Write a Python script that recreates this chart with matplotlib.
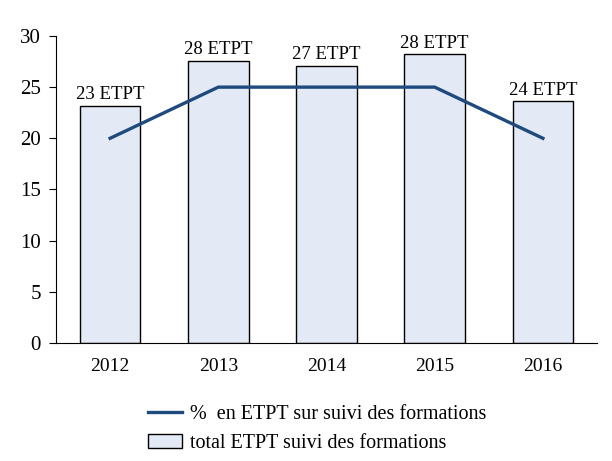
import matplotlib
matplotlib.use("Agg")
import matplotlib.pyplot as plt
from matplotlib.lines import Line2D
from matplotlib.patches import Patch

years = ["2012", "2013", "2014", "2015", "2016"]
total_etpt = [23.2, 27.6, 27.1, 28.2, 23.6]
bar_labels = ["23 ETPT", "28 ETPT", "27 ETPT", "28 ETPT", "24 ETPT"]
pct_etpt = [20, 25, 25, 25, 20]

plt.rcParams['font.family'] = ['Liberation Serif', 'DejaVu Serif']

fig = plt.figure(figsize=(6.12, 4.61), dpi=100)
ax = fig.add_axes([0.0915, 0.256, 0.884, 0.666])

x = range(len(years))
ax.bar(x, total_etpt, width=0.56, color="#E4EAF5", edgecolor="black", linewidth=1.0, zorder=2)
for i, (v, lab) in enumerate(zip(total_etpt, bar_labels)):
    ax.text(i, v + 0.25, lab, ha="center", va="bottom", fontsize=13.5)
ax.plot(x, pct_etpt, color="#1F4A7E", linewidth=2.4, zorder=3)

ax.set_xlim(-0.5, 4.5)
ax.set_ylim(0, 30)
ax.set_yticks(range(0, 31, 5))
ax.set_xticks(list(x))
ax.set_xticklabels(years)
ax.tick_params(axis="y", direction="out", length=5, labelsize=15, pad=6)
ax.tick_params(axis="x", length=0, labelsize=14, pad=11)
ax.spines["top"].set_visible(False)
ax.spines["right"].set_visible(False)

handles = [Line2D([0], [0], color="#1F4A7E", linewidth=2.4),
           Patch(facecolor="#E4EAF5", edgecolor="black", linewidth=1.0)]
labels = ["%  en ETPT sur suivi des formations", "total ETPT suivi des formations"]
fig.legend(handles, labels, loc="center left", bbox_to_anchor=(0.212, 0.07),
           frameon=False, fontsize=14.5, handlelength=1.7, handletextpad=0.4,
           labelspacing=0.5)

fig.savefig("out.png", dpi=100)
